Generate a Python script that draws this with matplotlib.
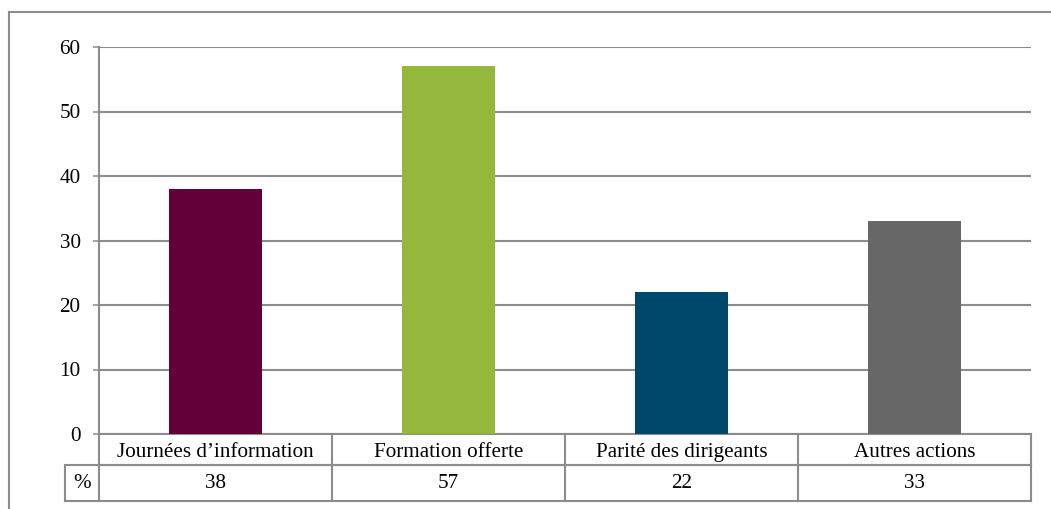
import matplotlib
matplotlib.use("Agg")
import matplotlib.pyplot as plt
from matplotlib.lines import Line2D

categories = ["Journées d\u2019information", "Formation offerte", "Parité des dirigeants", "Autres actions"]
values = [38, 57, 22, 33]
colors = ["#640039", "#93B83B", "#00486B", "#676767"]
row_label = "%"
yticks = [0, 10, 20, 30, 40, 50, 60]

W, H = 1051, 509
GRID = "#8c8c8c"
FS = 15.2
plt.rcParams["font.family"] = ["Liberation Serif", "DejaVu Serif"]

fig = plt.figure(figsize=(W / 100, H / 100), dpi=100)
x0, x1, ytop, ybot = 99, 1031, 47, 434
ax = fig.add_axes([x0 / W, 1 - ybot / H, (x1 - x0) / W, (ybot - ytop) / H])

xs = range(len(values))
ax.bar(xs, values, width=0.40, color=colors, zorder=3)
ax.set_xlim(-0.5, len(values) - 0.5)
ax.set_ylim(0, 60)
ax.set_yticks(yticks)
ax.yaxis.grid(True, color=GRID, lw=1.5, zorder=0)
ax.set_axisbelow(True)
ax.set_xticks([])
for s in ("top", "right", "bottom"):
    ax.spines[s].set_visible(False)
ax.spines["left"].set_color(GRID)
ax.spines["left"].set_linewidth(1.5)
ax.tick_params(axis="y", length=4.3, width=1.1, color=GRID, pad=9.0, labelsize=FS)

# data table under the axes
hpx = ybot - ytop
r1 = -31 / hpx
r2 = -67 / hpx
xl = -0.5 + (65 - x0) / ((x1 - x0) / len(values))
tr = ax.get_xaxis_transform()
kw = dict(color=GRID, lw=1.5, transform=tr, clip_on=False)
ax.add_line(Line2D([-0.5, len(values) - 0.5], [0, 0], **kw))
ax.add_line(Line2D([-0.5, len(values) - 0.5], [r1, r1], **kw))
ax.add_line(Line2D([xl, len(values) - 0.5], [r1, r1], **kw))
ax.add_line(Line2D([xl, len(values) - 0.5], [r2, r2], **kw))
ax.add_line(Line2D([xl, xl], [r1, r2], **kw))
for k in range(len(values) + 1):
    ax.add_line(Line2D([k - 0.5, k - 0.5], [0, r2], **kw))
for i, (c, v) in enumerate(zip(categories, values)):
    ax.text(i, r1 / 2 - 3 / hpx, c, transform=tr, ha="center", va="center", fontsize=FS, clip_on=False)
    ax.text(i, (r1 + r2) / 2, str(v), transform=tr, ha="center", va="center", fontsize=FS, clip_on=False)
ax.text((xl - 0.5) / 2, (r1 + r2) / 2, row_label, transform=tr, ha="center", va="center",
        fontsize=FS, clip_on=False)

# outer chart frame
fkw = dict(color=GRID, lw=1.5, transform=fig.transFigure)
fig.add_artist(Line2D([9 / W, 9 / W], [1 - 12 / H, 0], **fkw))
fig.add_artist(Line2D([9 / W, 1], [1 - 12 / H, 1 - 12 / H], **fkw))

fig.savefig("out.png", dpi=100)
